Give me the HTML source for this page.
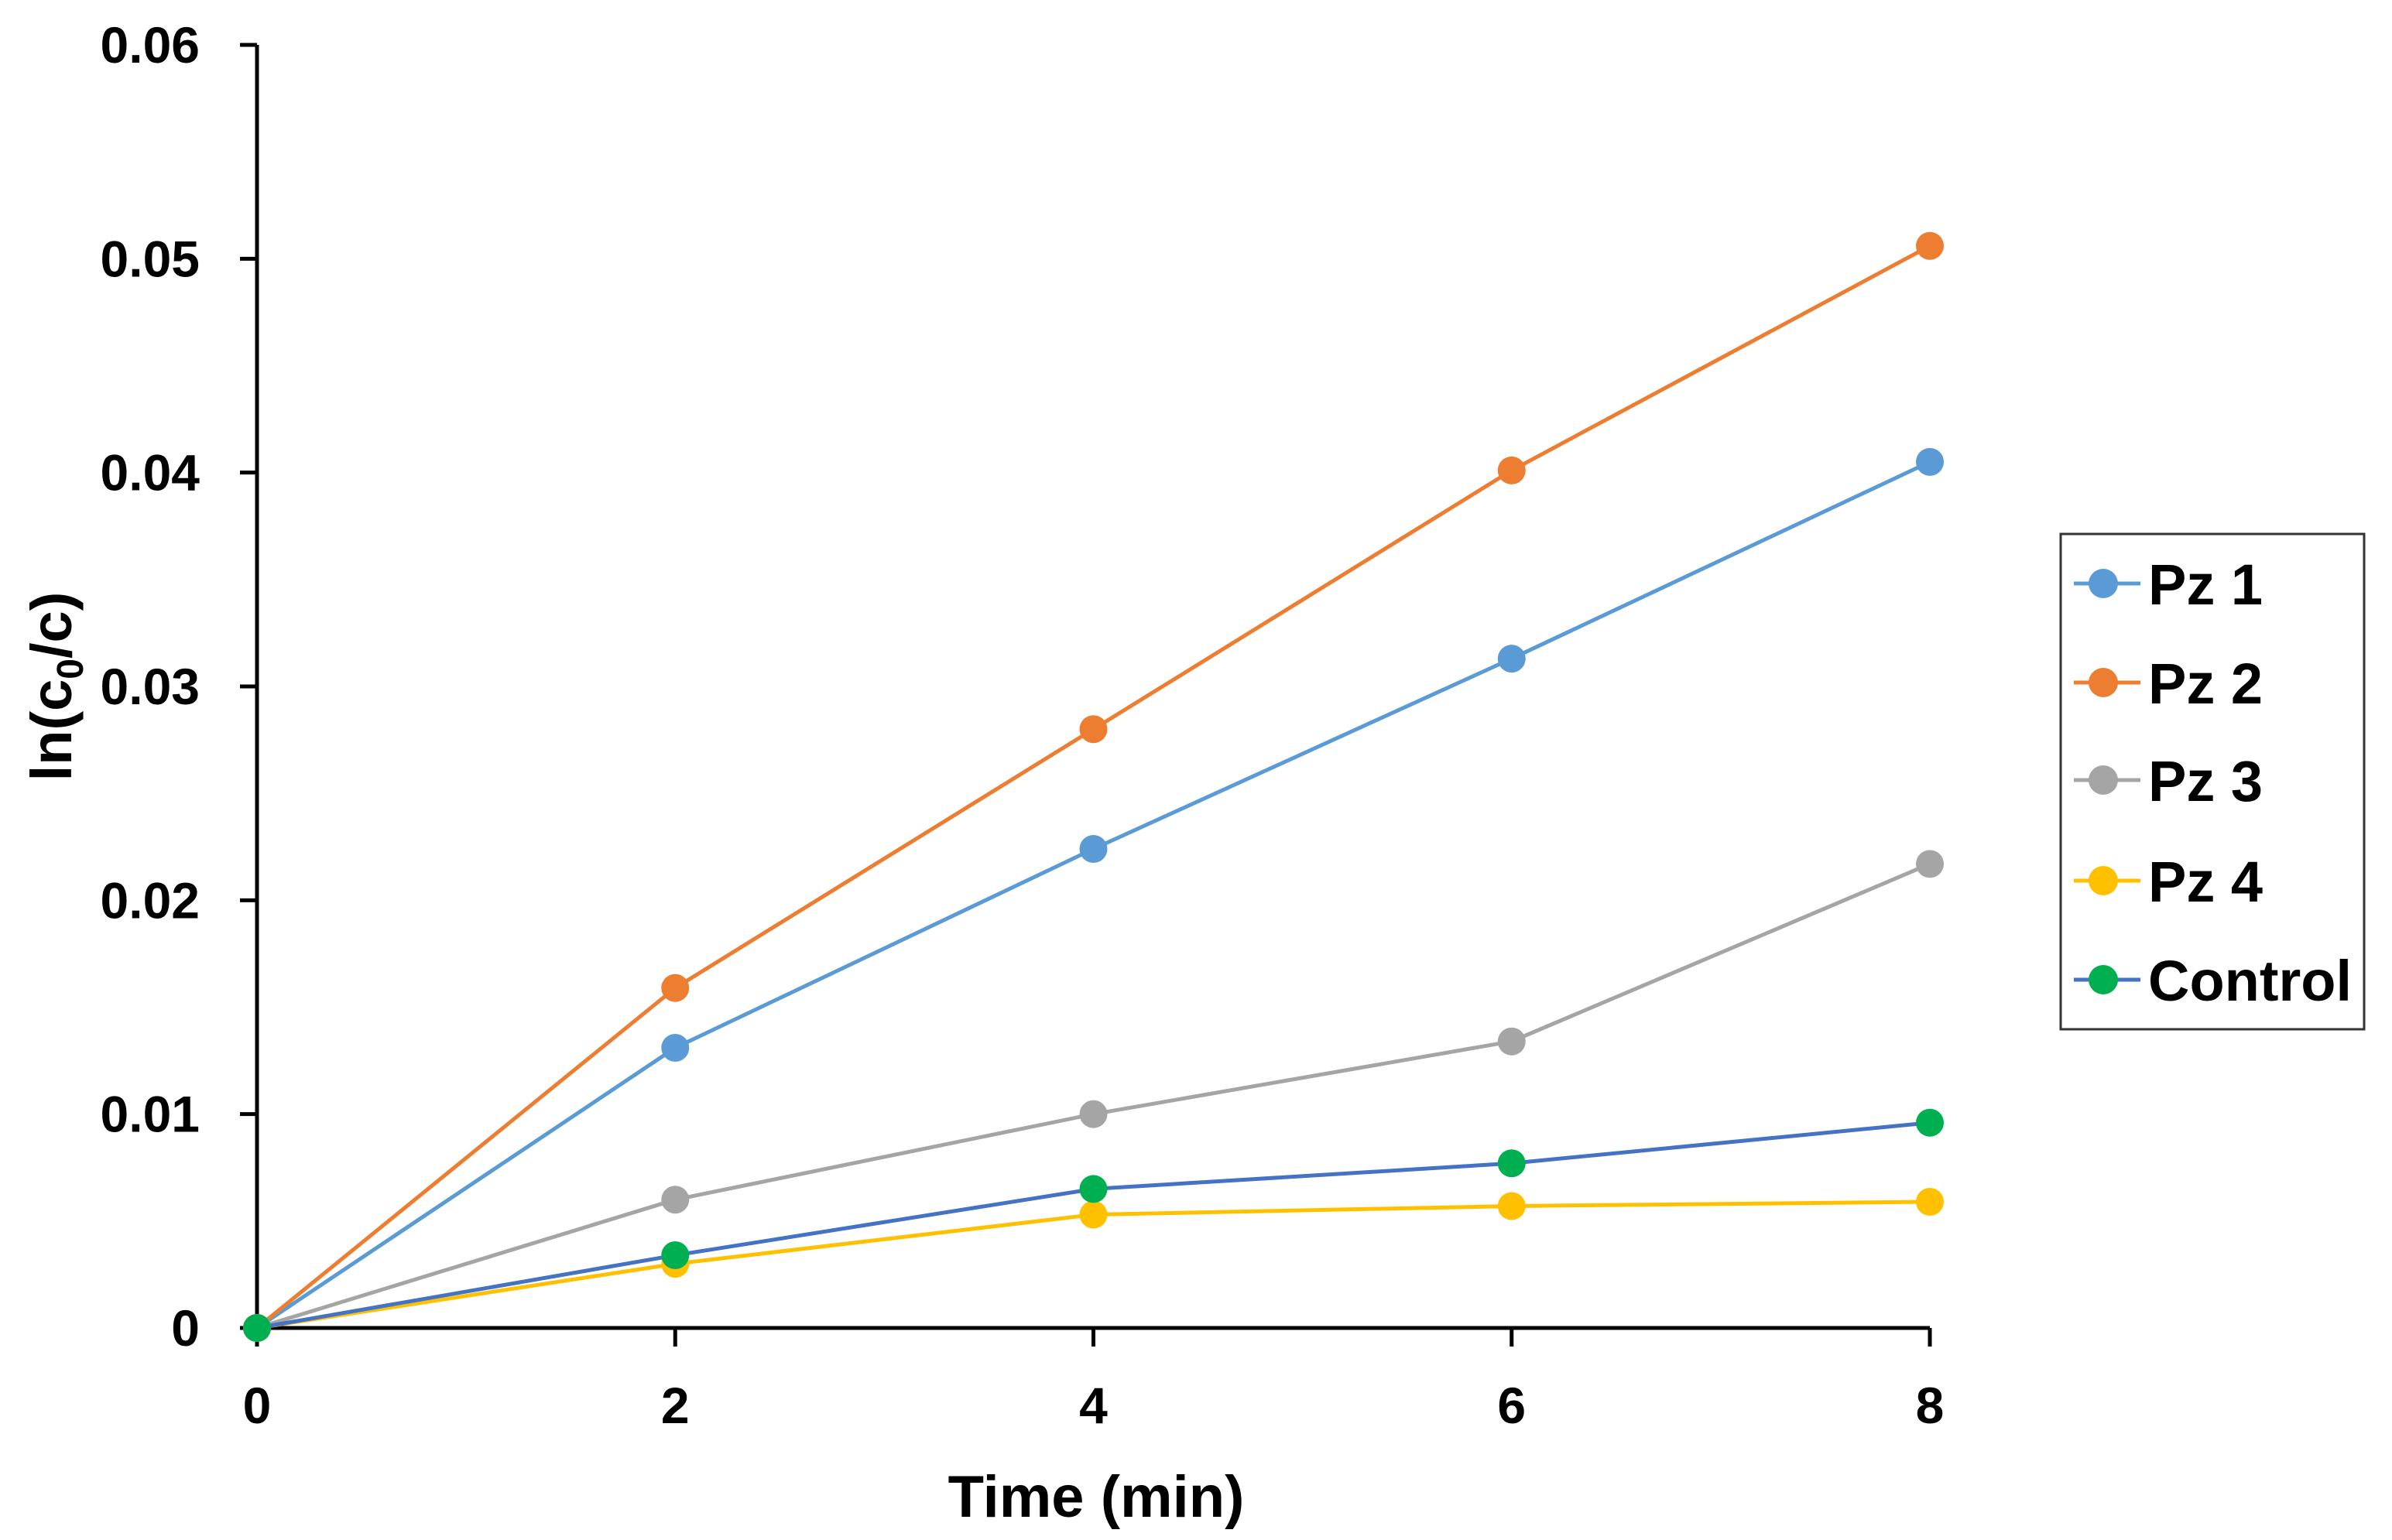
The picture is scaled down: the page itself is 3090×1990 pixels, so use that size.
<!DOCTYPE html>
<html><head><meta charset="utf-8"><style>
html,body{margin:0;padding:0;background:#fff;}
svg{display:block;font-family:"Liberation Sans",sans-serif;font-weight:bold;}
</style></head><body>
<svg id="chart" width="3090" height="1990" viewBox="0 0 3090 1990" xmlns="http://www.w3.org/2000/svg">
<rect x="0" y="0" width="3090" height="1990" fill="#fff"/>
<g id="axes"></g>
<g id="series"></g>
<text x="1416" y="1960" font-size="76" text-anchor="middle">Time (min)</text>
<text transform="translate(92,887) rotate(-90)" font-size="74" text-anchor="middle">ln(c<tspan font-size="48" dy="15">0</tspan><tspan dy="-15">/c)</tspan></text>
<g id="legend">
<rect x="2662" y="690" width="392" height="640" fill="#fff" stroke="#333" stroke-width="3"/>
</g>
</svg>
<script>
const xValues = [0, 2, 4, 6, 8];
const xTickLabels = ["0", "2", "4", "6", "8"];
const yTickValues = [0, 0.01, 0.02, 0.03, 0.04, 0.05, 0.06];
const yTickLabels = ["0", "0.01", "0.02", "0.03", "0.04", "0.05", "0.06"];
const seriesNames = ["Pz 1", "Pz 2", "Pz 3", "Pz 4", "Control"];
const pz1 = [0, 0.0131, 0.0224, 0.0313, 0.0405];
const pz2 = [0, 0.0159, 0.0280, 0.0401, 0.0506];
const pz3 = [0, 0.0060, 0.0100, 0.0134, 0.0217];
const pz4 = [0, 0.0030, 0.0053, 0.0057, 0.0059];
const control = [0, 0.0034, 0.0065, 0.0077, 0.0096];

const NS = "http://www.w3.org/2000/svg";
const X0 = 332, X1 = 2493, Y0 = 1716, Y1 = 58;
function xs(v){ return X0 + (v - 0) / 8 * (X1 - X0); }
function ys(v){ return Y0 - v / 0.06 * (Y0 - Y1); }
function mk(tag, attrs, parent){ const e = document.createElementNS(NS, tag); for (const k in attrs) e.setAttribute(k, attrs[k]); parent.appendChild(e); return e; }

const axes = document.getElementById('axes');
let a = mk('line', {x1:X0, y1:Y0, x2:X0, y2:Y1, stroke:'#000', 'stroke-width':5}, axes);


a = mk('line', {x1:X0, y1:Y0, x2:X1, y2:Y0, stroke:'#000', 'stroke-width':5}, axes);


yTickValues.forEach((v, i) => {
  const t = mk('line', {x1:X0-22, y1:ys(v), x2:X0, y2:ys(v), stroke:'#000', 'stroke-width':5}, axes);
  
  
  const l = mk('text', {x:258, y:ys(v)+23, 'font-size':66, 'text-anchor':'end'}, axes);
  
  
  l.textContent = yTickLabels[i];
});
xValues.forEach((v, i) => {
  const t = mk('line', {x1:xs(v), y1:Y0, x2:xs(v), y2:Y0+24, stroke:'#000', 'stroke-width':5}, axes);
  
  
  const l = mk('text', {x:xs(v), y:1839, 'font-size':66, 'text-anchor':'middle'}, axes);
  
  
  l.textContent = xTickLabels[i];
});

const allSeries = [pz1, pz2, pz3, pz4, control];
const lineColors = ["#5B9BD5", "#ED7D31", "#A5A5A5", "#FFC000", "#4472C4"];
const markerColors = ["#5B9BD5", "#ED7D31", "#A5A5A5", "#FFC000", "#00B050"];
const sg = document.getElementById('series');
allSeries.forEach((data, si) => {
  const g = mk('g', {}, sg);
  
  
  const pts = data.map((v, i) => xs(xValues[i]) + ',' + ys(v)).join(' ');
  const pl = mk('polyline', {points:pts, fill:'none', stroke:lineColors[si], 'stroke-width':5, 'stroke-linejoin':'round'}, g);
  
  
  data.forEach((v, i) => {
    const c = mk('circle', {cx:xs(xValues[i]), cy:ys(v), r:18, fill:markerColors[si]}, g);
    
    
  });
});

const lg = document.getElementById('legend');
const legendY = [754, 882, 1008, 1138, 1266];
seriesNames.forEach((n, i) => {
  const g = mk('g', {}, lg);
  
  
  mk('line', {x1:2679, y1:legendY[i], x2:2765, y2:legendY[i], stroke:lineColors[i], 'stroke-width':5}, g);
  mk('circle', {cx:2717, cy:legendY[i], r:19, fill:markerColors[i]}, g);
  const t = mk('text', {x:2775, y:legendY[i]+27, 'font-size':74}, g);
  t.textContent = n;
});
</script>
</body></html>
